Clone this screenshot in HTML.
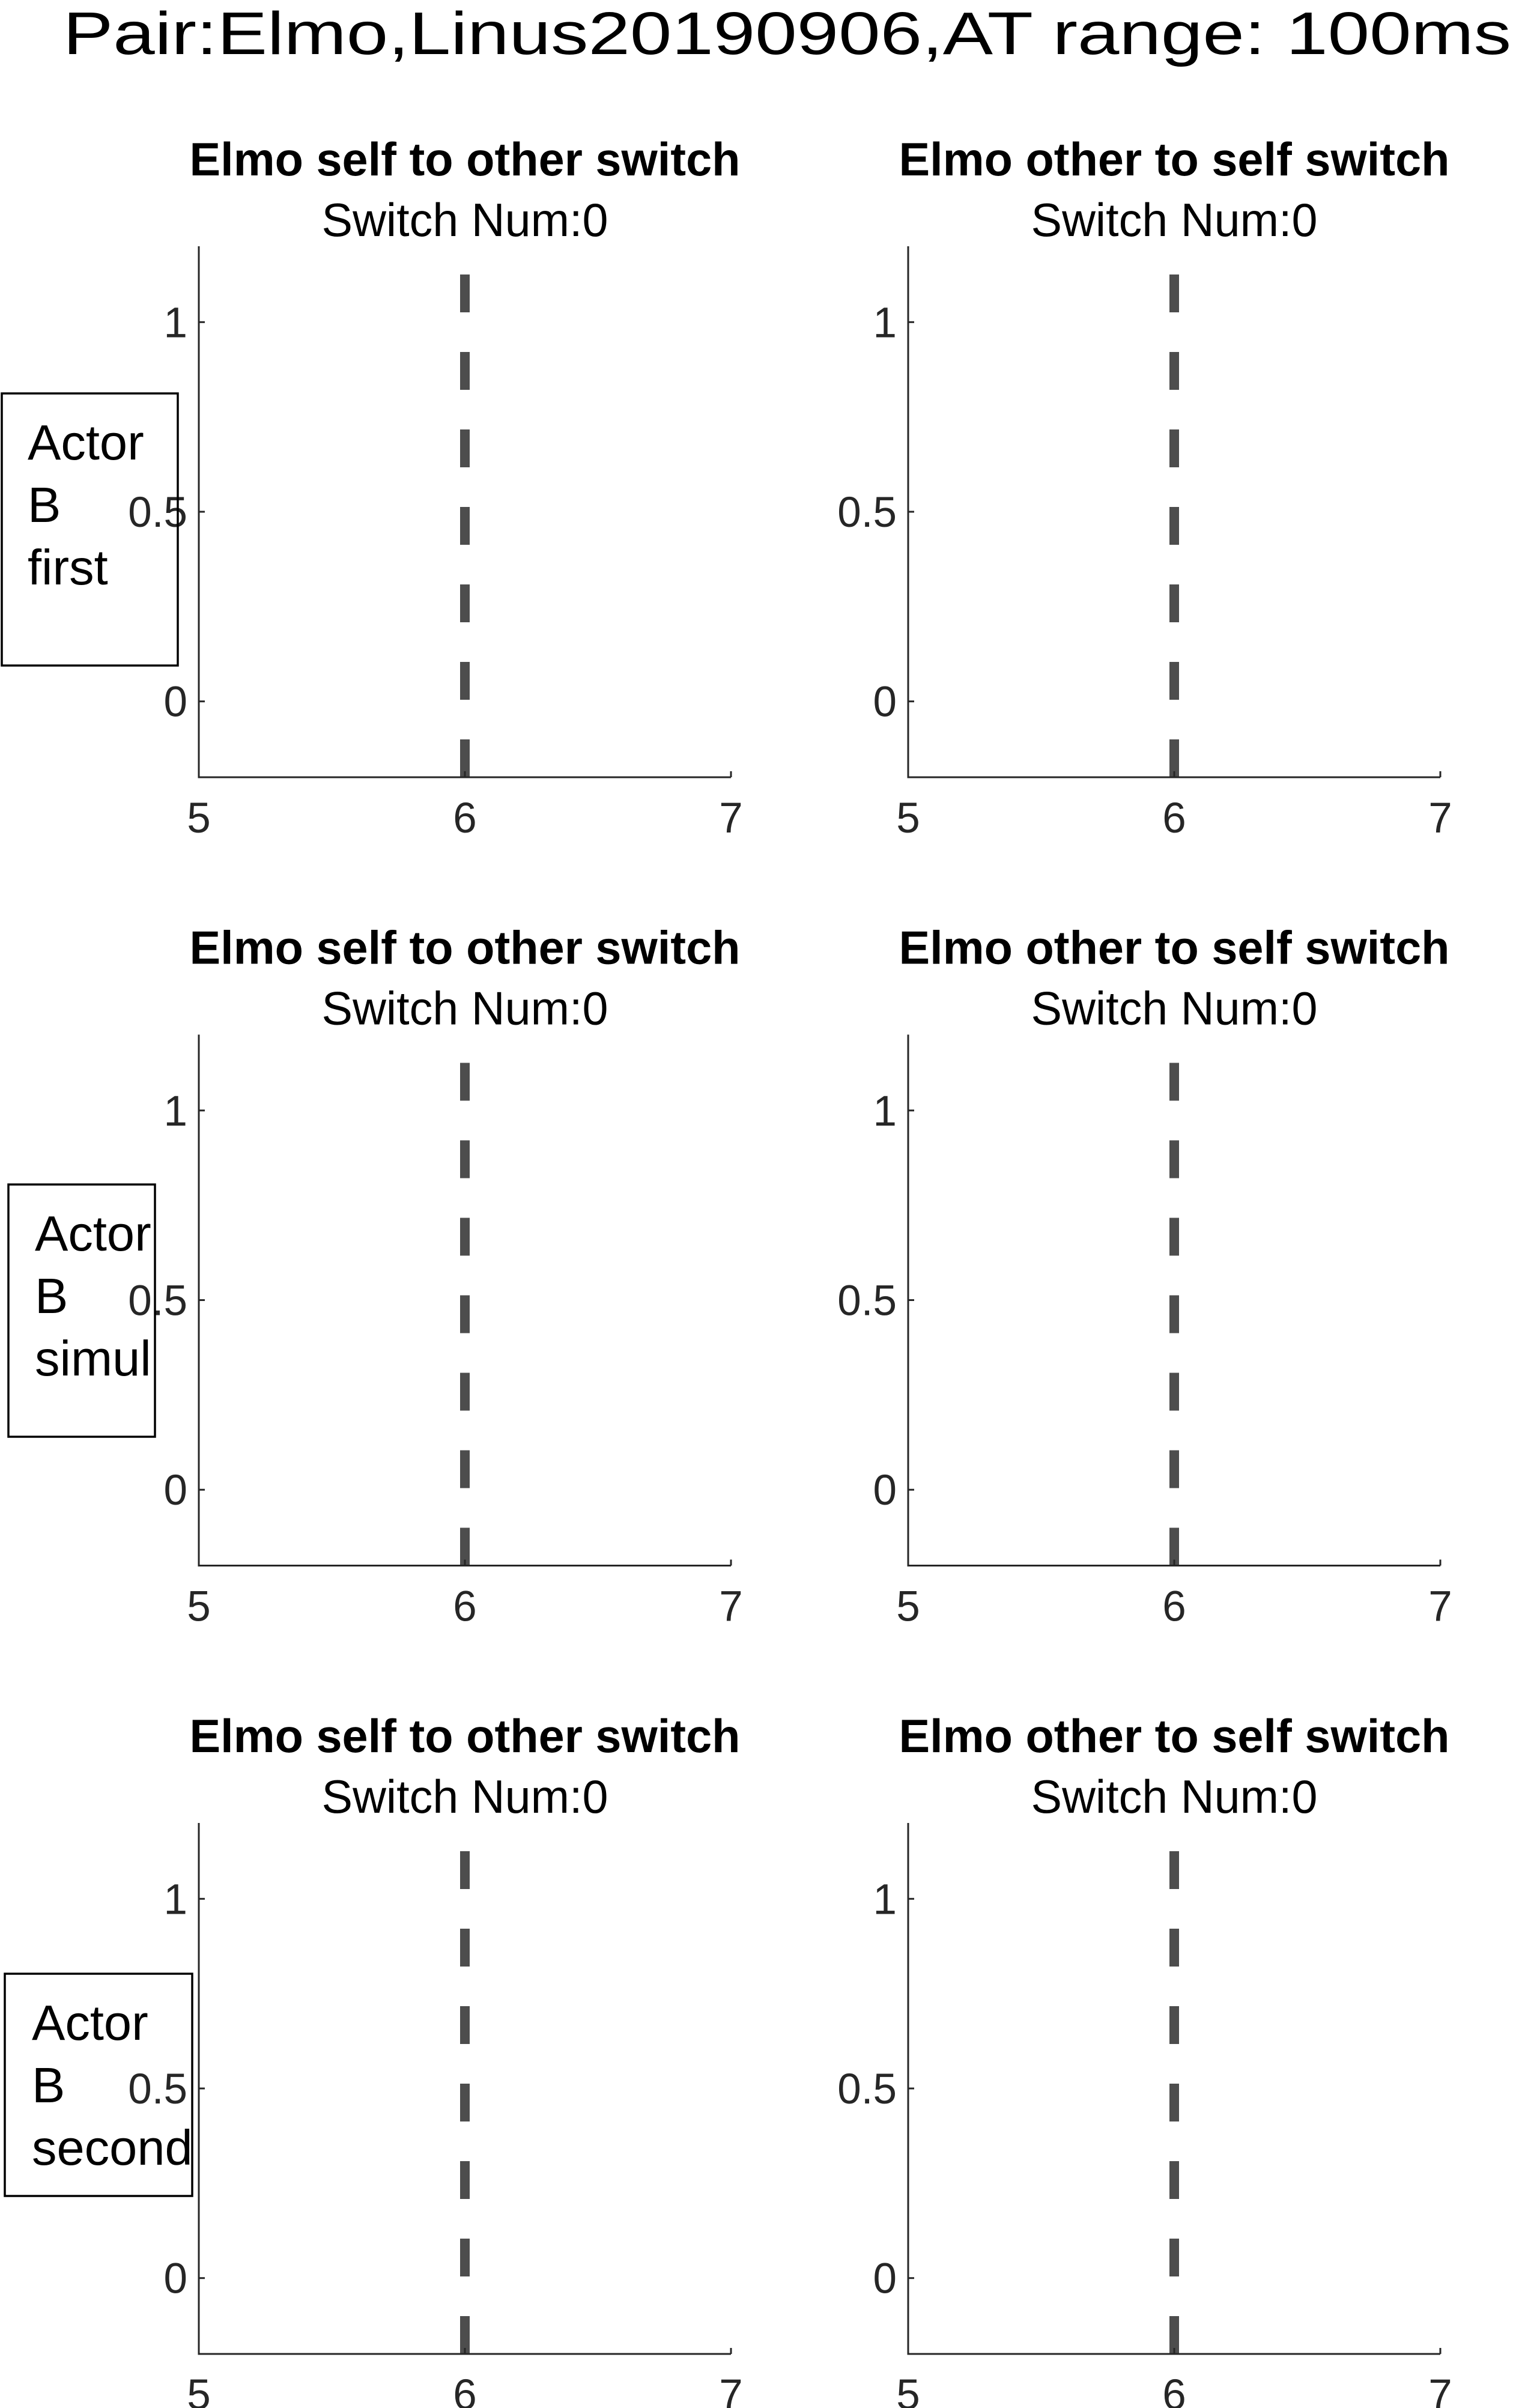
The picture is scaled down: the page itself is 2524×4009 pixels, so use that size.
<!DOCTYPE html>
<html><head><meta charset="utf-8"><style>
html,body{margin:0;padding:0;background:#fff;}
svg{display:block;}
</style></head><body>
<svg id="fig" width="2524" height="4009" viewBox="0 0 2524 4009" xmlns="http://www.w3.org/2000/svg">
<rect x="0" y="0" width="2524" height="4009" fill="#fff"/>
<text x="105" y="90" font-family="Liberation Sans, sans-serif" font-size="100" textLength="2411" lengthAdjust="spacingAndGlyphs" fill="#000">Pair:Elmo,Linus20190906,AT range: 100ms</text>
</svg>
<script>
const xTicks = [5, 6, 7];
const yTicks = [0, 0.5, 1];
const yTickLabels = ['0', '0.5', '1'];
const xLim = [5, 7];
const yLim = [-0.2, 1.2];
const switchTimes = [6];
const switchCounts = [0, 0, 0, 0, 0, 0];
const colTitles = ['Elmo self to other switch', 'Elmo other to self switch'];
const rowLabels = [['Actor', 'B', 'first'], ['Actor', 'B', 'simul'], ['Actor', 'B', 'second']];

const NS = 'http://www.w3.org/2000/svg';
const svg = document.getElementById('fig');
const colLeft = [331, 1512], axW = 886;
const rowTop0 = 410, axH = 884, rowStep = 1312.5;
const boxes = [[3, 655, 293, 453, 46], [14, 1972, 244, 420, 58], [8, 3286, 312, 370, 53]];

function mk(tag, attrs, parent) {
  const e = document.createElementNS(NS, tag);
  for (const k in attrs) e.setAttribute(k, attrs[k]);
  (parent || svg).appendChild(e);
  return e;
}

for (let r = 0; r < 3; r++) {
  const top = rowTop0 + r * rowStep, bot = top + axH;
  for (let c = 0; c < 2; c++) {
    const left = colLeft[c], right = left + axW;
    const sx = v => left + (v - xLim[0]) / (xLim[1] - xLim[0]) * axW;
    const sy = v => bot - (v - yLim[0]) / (yLim[1] - yLim[0]) * axH;
    const g = mk('g', {});
    
    
    const cx = left + axW / 2;
    const t = mk('text', {x: cx, y: top - 118 + 0, 'text-anchor': 'middle', 'font-family': 'Liberation Sans, sans-serif', 'font-weight': 'bold', 'font-size': 78, textLength: 917, lengthAdjust: 'spacingAndGlyphs', fill: '#000'}, g);
    t.setAttribute('y', top - 118);
    t.textContent = colTitles[c];
    
    
    const st = mk('text', {x: cx, y: top - 17, 'text-anchor': 'middle', 'font-family': 'Liberation Sans, sans-serif', 'font-size': 78, textLength: 477, lengthAdjust: 'spacingAndGlyphs', fill: '#000'}, g);
    st.textContent = 'Switch Num:' + switchCounts[r * 2 + c];
    
    
    // switch lines
    switchTimes.forEach(v => {
      const l = mk('line', {x1: sx(v), x2: sx(v), y1: sy(yLim[0]), y2: sy(yLim[1]), stroke: '#4d4d4d', 'stroke-width': 16, 'stroke-dasharray': '63 66'}, g);
      
      
    });
    // axes
    const ya = mk('line', {x1: left, x2: left, y1: top, y2: bot + 1.5, stroke: '#262626', 'stroke-width': 3}, g);
    
    
    const xa = mk('line', {x1: left - 1.5, x2: right, y1: bot, y2: bot, stroke: '#262626', 'stroke-width': 3}, g);
    
    
    xTicks.forEach(v => {
      mk('line', {x1: sx(v), x2: sx(v), y1: bot, y2: bot - 10, stroke: '#262626', 'stroke-width': 3}, g);
      const tl = mk('text', {x: sx(v), y: bot + 92, 'text-anchor': 'middle', 'font-family': 'Liberation Sans, sans-serif', 'font-size': 71, fill: '#262626'}, g);
      tl.textContent = v;
      
      
    });
    yTicks.forEach((v, i) => {
      mk('line', {x1: left, x2: left + 10, y1: sy(v), y2: sy(v), stroke: '#262626', 'stroke-width': 3}, g);
      const tl = mk('text', {x: left - 19, y: sy(v) + 25, 'text-anchor': 'end', 'font-family': 'Liberation Sans, sans-serif', 'font-size': 71, fill: '#262626'}, g);
      tl.textContent = yTickLabels[i];
      
      
    });
  }
  // row label box
  const b = boxes[r];
  const cp = mk('clipPath', {id: 'clip' + r});
  mk('rect', {x: b[0], y: b[1], width: b[2], height: b[3]}, cp);
  const bg = mk('g', {});
  
  
  const tg = mk('g', {'clip-path': 'url(#clip' + r + ')'}, bg);
  rowLabels[r].forEach((s, i) => {
    const tx = mk('text', {x: b[4], y: b[1] + 110 + i * 104, 'font-family': 'Liberation Sans, sans-serif', 'font-size': 83, fill: '#000'}, tg);
    tx.textContent = s;
    
    
  });
  mk('rect', {x: b[0], y: b[1], width: b[2], height: b[3], fill: 'none', stroke: '#000', 'stroke-width': 3.5}, bg);
}
</script>
</body></html>
